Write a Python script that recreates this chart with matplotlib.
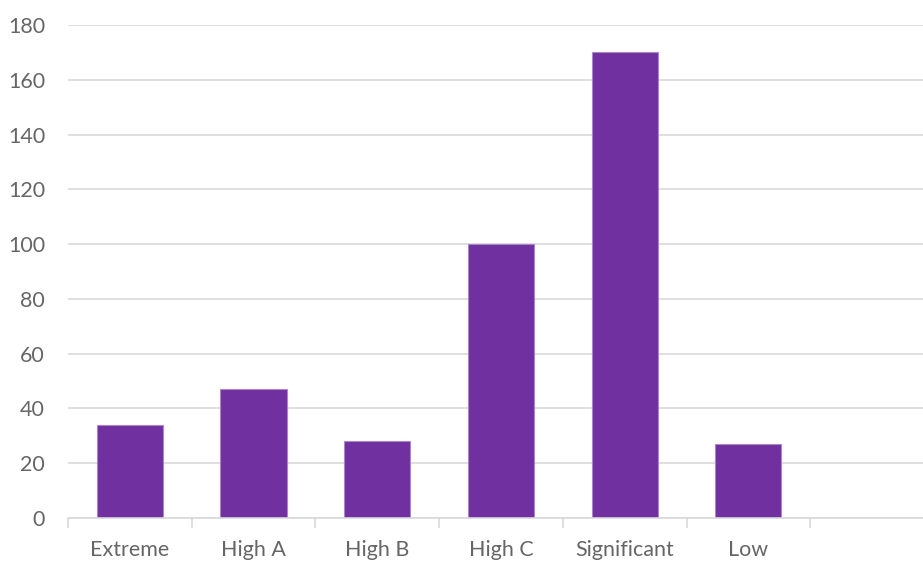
import matplotlib
matplotlib.use("Agg")
import matplotlib.pyplot as plt
from matplotlib.ticker import FixedLocator, NullFormatter

categories = ["Extreme", "High A", "High B", "High C", "Significant", "Low"]
counts = [34, 47, 28, 100, 170, 27]
y_ticks = [0, 20, 40, 60, 80, 100, 120, 140, 160, 180]

plt.rcParams['font.family'] = ['Lato', 'DejaVu Sans']

fig = plt.figure(figsize=(9.23, 5.61), dpi=100)
ax = fig.add_axes([68 / 923, 43 / 561, 1 - 68 / 923, (518 - 25) / 561])

x = list(range(len(categories)))
ax.bar(x, counts, width=0.535, color="#7030A0", edgecolor="#A985C9",
       linewidth=0.8, zorder=3)

ax.set_ylim(0, 180)
ax.set_xlim(-0.5, (923 - 68) / 123.7 - 0.5)
ax.set_yticks(y_ticks)
ax.set_yticklabels([str(v) for v in y_ticks], color="#666666", fontsize=15.5)
ax.tick_params(axis="y", length=0, pad=16.5)
ax.yaxis.grid(True, color="#D9D9D9", linewidth=1.2, zorder=0)

# category labels centered, tick marks at category boundaries
ax.set_xticks(x)
ax.set_xticklabels(categories, color="#666666", fontsize=15.5)
ax.tick_params(axis="x", which="major", length=0, pad=16)
ax.xaxis.set_minor_locator(FixedLocator([i - 0.5 for i in range(len(categories) + 1)]))
ax.xaxis.set_minor_formatter(NullFormatter())
ax.tick_params(axis="x", which="minor", length=7, width=1.2, color="#D9D9D9")

for side in ["top", "right", "left"]:
    ax.spines[side].set_visible(False)
ax.spines["bottom"].set_color("#D9D9D9")
ax.spines["bottom"].set_linewidth(1.2)
ax.spines["bottom"].set_zorder(4)

fig.savefig("out.png", dpi=100)
